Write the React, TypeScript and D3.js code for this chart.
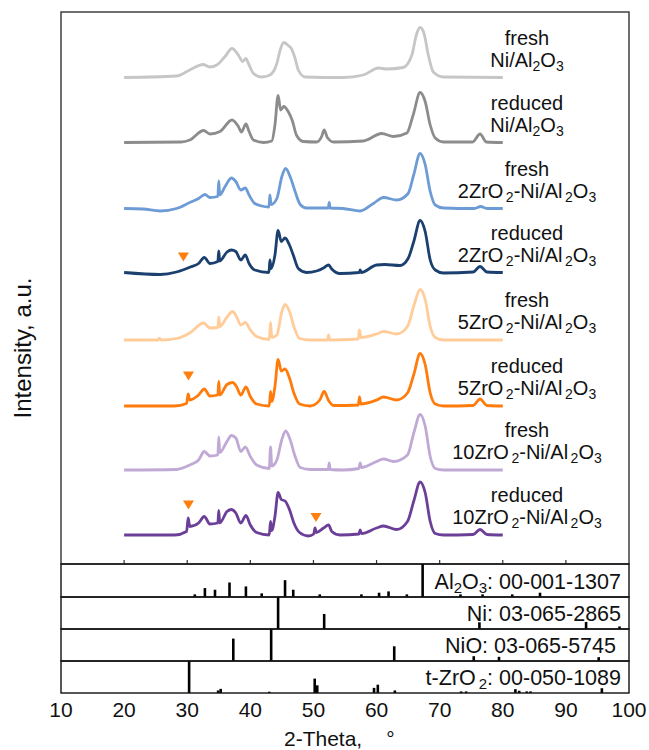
import * as d3 from "d3";

type Pt = [number, number];

// XRD patterns: [2-theta, intensity above the curve's own baseline]
const freshNiAl: Pt[] = [
  [20, 0], [28.3, 3], [30.4, 15], [32.5, 26], [33.6, 21], [34.7, 25], [36.0, 42], [37.1, 58], [38.1, 45],
  [38.8, 32], [39.3, 38], [39.7, 28], [40.5, 8], [41.8, 1], [43.1, 5], [44.2, 28], [44.8, 58], [45.3, 70],
  [46.0, 64], [46.5, 58], [47.1, 38], [47.6, 15], [48.7, 1], [54.7, 0], [57.9, 5], [60.3, 19], [61.6, 17],
  [64.2, 20], [65.6, 45], [66.3, 85], [66.9, 100], [67.5, 89], [68.2, 45], [69.0, 11], [70.6, 1], [80, 0],
];
const reducedNiAl: Pt[] = [
  [20, 0], [29, 1], [30.4, 5], [32.6, 24], [33.6, 17], [35.2, 22], [37.1, 45], [38.1, 32], [38.6, 21],
  [39.3, 37], [39.8, 22], [40.5, 5], [42.1, 0], [43.4, 3], [43.9, 35], [44.4, 94], [44.8, 65], [45.3, 72],
  [46.0, 62], [46.7, 42], [47.3, 15], [48.4, 2], [50.5, 1], [51.3, 12], [51.7, 25], [52.2, 10], [53.2, 1],
  [57.9, 3], [60.8, 18], [62.7, 12], [64.8, 19], [65.8, 55], [66.9, 100], [67.7, 82], [68.5, 35], [69.3, 9],
  [70.6, 1], [75.2, 1], [76.4, 17], [77.4, 1], [80, 0],
];
const fresh2Zr: Pt[] = [
  [20, 0], [23.0, -1], [25.7, -5], [28.3, 0], [30.4, 12], [31.8, 20], [32.8, 28], [33.6, 22], [34.85, 24],
  [35.0, 55], [35.15, 27], [36.0, 44], [37.0, 61], [37.7, 54], [38.5, 37], [39.2, 41], [39.8, 27], [40.7, 10],
  [41.8, 5], [42.95, 3], [43.1, 27], [43.3, 8], [44.2, 20], [45.0, 64], [45.6, 80], [46.3, 64], [47.1, 34],
  [47.9, 8], [48.9, 1], [52.35, 1], [52.5, 12], [52.65, 1], [54.7, 0], [57.4, -5], [59.5, 10], [61.1, 22],
  [63.2, 17], [65.0, 30], [65.9, 68], [66.9, 110], [67.7, 88], [68.5, 34], [69.3, 7], [70.6, 1], [75.5, 0],
  [76.5, 4], [77.5, 0], [80, 0],
];
const reduced2Zr: Pt[] = [
  [20, 0], [25.7, -4], [28.3, 1], [29.3, 5], [30.5, 11], [31.8, 18], [32.7, 30], [33.6, 18], [34.85, 22],
  [35.0, 43], [35.15, 23], [36.3, 41], [37.0, 45], [37.7, 42], [38.5, 25], [39.2, 35], [39.8, 18], [40.7, 5],
  [42.95, 0], [43.1, 25], [43.3, 8], [43.9, 35], [44.4, 84], [44.9, 62], [45.5, 69], [46.2, 55], [46.8, 35],
  [47.6, 8], [48.9, 0], [50.5, 3], [51.6, 9], [52.4, 15], [52.9, 7], [54.2, -2], [57.25, 0], [57.4, 5],
  [57.55, 0], [60.0, 15], [61.3, 16], [63.7, 14], [65.0, 28], [65.9, 62], [66.9, 104], [67.7, 82], [68.5, 25],
  [69.3, 5], [70.6, -1], [75.3, 1], [76.4, 12], [77.5, 1], [80, 0],
];
const fresh5Zr: Pt[] = [
  [20, 0], [25.3, 0], [25.6, 3], [25.9, 0], [28.3, 3], [30.4, 14], [32.6, 34], [33.6, 24], [34.85, 25],
  [35.0, 46], [35.15, 27], [36.3, 46], [37.2, 57], [37.8, 47], [38.5, 30], [39.2, 35], [40.0, 20], [41.0, 7],
  [43.0, 1], [43.2, 35], [43.4, 5], [44.2, 10], [45.0, 57], [45.5, 71], [46.2, 57], [46.9, 27], [47.8, 3],
  [49.5, 0], [52.25, 0], [52.4, 10], [52.55, 0], [57.1, 2], [57.3, 20], [57.5, 5], [60.0, 12], [61.1, 17],
  [63.2, 12], [64.9, 27], [65.9, 68], [66.9, 101], [67.7, 81], [68.5, 27], [69.3, 5], [70.6, 0], [80, 0],
];
const reduced5Zr: Pt[] = [
  [20, 0], [28, 0], [29.9, 5], [30.15, 24], [30.4, 12], [31.8, 22], [32.7, 34], [33.6, 20], [34.85, 22],
  [35.0, 49], [35.15, 22], [36.3, 43], [37.2, 47], [37.8, 39], [38.5, 22], [39.3, 38], [40.0, 19], [41.0, 4],
  [43.0, 0], [43.2, 29], [43.4, 9], [43.9, 39], [44.4, 93], [44.9, 70], [45.5, 74], [46.2, 56], [46.9, 26],
  [47.8, 4], [49.5, 0], [51.0, 12], [51.7, 29], [52.4, 11], [53.2, 1], [57.1, 2], [57.3, 18], [57.5, 4],
  [60.0, 12], [61.1, 18], [63.2, 12], [64.9, 26], [65.9, 63], [66.9, 105], [67.7, 83], [68.5, 26], [69.3, 4],
  [70.6, 0], [75.3, 1], [76.4, 14], [77.5, 1], [80, 0],
];
const fresh10Zr: Pt[] = [
  [20, 0], [28.3, 1], [30.4, 10], [31.8, 20], [32.7, 37], [33.6, 28], [34.85, 30], [35.0, 66], [35.15, 35],
  [36.3, 57], [37.0, 69], [37.7, 64], [38.5, 37], [39.2, 46], [40.0, 27], [41.0, 10], [43.0, 3], [43.2, 46],
  [43.4, 8], [44.2, 20], [45.0, 61], [45.6, 78], [46.3, 61], [47.1, 27], [47.9, 5], [49.5, 1], [52.35, 1],
  [52.5, 14], [52.65, 1], [54.7, 0], [57.2, 3], [57.4, 14], [57.6, 5], [60.0, 17], [61.1, 22], [62.7, 17],
  [64.9, 30], [65.9, 74], [66.9, 111], [67.7, 88], [68.5, 27], [69.3, 3], [70.6, 0], [80, 0],
];
const reduced10Zr: Pt[] = [
  [20, 0], [28, 0], [29.9, 7], [30.15, 34], [30.4, 17], [31.8, 24], [32.7, 37], [33.6, 22], [34.85, 24],
  [35.0, 49], [35.15, 24], [36.3, 47], [37.0, 51], [37.7, 44], [38.5, 24], [39.3, 39], [40.0, 20], [41.0, 5],
  [43.0, 0], [43.2, 27], [43.4, 9], [43.9, 37], [44.4, 85], [44.9, 71], [45.5, 68], [46.2, 51], [46.9, 24],
  [47.8, 5], [49.2, -2], [50.05, 2], [50.25, 14], [50.45, 5], [51.6, 14], [52.4, 20], [52.9, 7], [54.2, 0],
  [57.2, 2], [57.4, 10], [57.6, 3], [60.0, 14], [61.1, 18], [63.2, 11], [64.9, 27], [65.9, 68], [66.9, 106],
  [67.7, 85], [68.5, 27], [69.3, 3], [70.6, 0], [75.3, 1], [76.4, 11], [77.5, 1], [80, 0],
];

const patterns = [freshNiAl, reducedNiAl, fresh2Zr, reduced2Zr, fresh5Zr, reduced5Zr, fresh10Zr, reduced10Zr];
// vertical stacking of the patterns (intensity units)
const stackOffsets = [915, 785, 653, 525, 390, 258, 130, 0];
const labelTop = ["fresh", "reduced", "fresh", "reduced", "fresh", "reduced", "fresh", "reduced"];
const labelBottom = [
  "Ni/Al{2}O{3}", "Ni/Al{2}O{3}",
  "2ZrO{2}-Ni/Al{2}O{3}", "2ZrO{2}-Ni/Al{2}O{3}",
  "5ZrO{2}-Ni/Al{2}O{3}", "5ZrO{2}-Ni/Al{2}O{3}",
  "10ZrO{2}-Ni/Al{2}O{3}", "10ZrO{2}-Ni/Al{2}O{3}",
];
const curveColors = ["#c6c6c6", "#8c8c8c", "#6d9bd5", "#1b3f6f", "#ffcc9a", "#ff7b0c", "#c0aad5", "#6b3f98"];

// t-ZrO2 markers: [pattern index, 2-theta, height above baseline]
const zrMarkers: [number, number, number][] = [[3, 29.4, 31], [5, 30.2, 60], [7, 30.2, 60], [7, 50.4, 35]];

// reference cards: [2-theta, relative intensity %]
const al2o3Sticks: Pt[] = [
  [31.2, 8], [32.8, 27], [34.4, 22], [36.7, 44], [39.3, 32], [41.8, 11], [45.5, 51], [46.8, 22], [51.0, 8],
  [57.6, 8], [60.4, 13], [61.9, 17], [64.8, 8], [67.3, 100], [73.3, 8], [76.8, 8], [81.5, 8], [85.9, 13],
];
const niSticks: Pt[] = [[44.4, 100], [51.7, 47], [76.3, 21], [93.2, 22], [98.5, 8]];
const nioSticks: Pt[] = [[37.3, 70], [43.3, 100], [62.8, 46], [75.4, 15], [79.4, 13], [95.2, 12]];
const zro2Sticks: Pt[] = [
  [30.3, 100], [34.9, 8], [35.3, 13], [43.0, 4], [50.2, 45], [50.6, 24], [59.6, 16], [60.2, 26], [62.9, 8],
  [73.4, 5], [74.2, 5], [82.0, 12], [82.6, 7], [83.8, 5], [84.4, 5], [95.7, 15],
];
const refSticks = [al2o3Sticks, niSticks, nioSticks, zro2Sticks];
const refLabels = ["Al{2}O{3}: 00-001-1307", "Ni: 03-065-2865", "NiO: 03-065-5745", "t-ZrO{2}: 00-050-1089"];

const xTicks = [10, 20, 30, 40, 50, 60, 70, 80, 90, 100];

const FONT = "'Liberation Sans', Arial, sans-serif";

// text with {n} marking a subscript digit; gap spaces the first two subscripts
function Rich({ text, sub, gap }: { text: string; sub: number; gap: number }) {
  const parts = text.split(/\{(\d)\}/);
  return (
    <>
      {parts.map((p, i) =>
        i % 2 === 1 ? (
          <tspan key={i} fontSize={sub} dy={4} dx={i < 5 ? gap : 0}>{p}</tspan>
        ) : p === "" ? null : (
          <tspan key={i} dy={i > 0 ? -4 : 0}>{p}</tspan>
        )
      )}
    </>
  );
}

const App = () => {
  const width = 649;
  const height = 750;
  const left = 61, right = 629, top = 12;
  const panelEdges = [564, 597, 629, 661, 693];

  const x = d3.scaleLinear().domain([10, 100]).range([left, right]);
  const y = d3.scaleLinear().domain([-58, 1046]).range([panelEdges[0], top]);

  const line = (off: number) =>
    d3.line<Pt>()
      .x(d => x(d[0]))
      .y(d => y(d[1] + off))
      .curve(d3.curveMonotoneX);

  return (
    <svg width={width} height={height} style={{ position: "absolute", left: 0, top: 0, background: "#fff" }}
      fontFamily={FONT}>
      <rect width={width} height={height} fill="#fff" />

      {patterns.map((data, i) => (
        <path key={i} d={line(stackOffsets[i])(data) || ""} fill="none" stroke={curveColors[i]}
          strokeWidth={2.8} strokeLinejoin="round" />
      ))}

      {zrMarkers.map(([k, t, h], i) => (
        <path key={i} transform={`translate(${x(t)},${y(stackOffsets[k] + h)})`}
          d="M-5.5,-4.5L5.5,-4.5L0,4.5Z" fill="#ff7f0e" />
      ))}

      {patterns.map((_, i) => (
        <g key={i} fontSize={20} fill="#111">
          <text x={527} y={y(stackOffsets[i]) - 33} textAnchor="middle">{labelTop[i]}</text>
          <text x={527} y={y(stackOffsets[i]) - 11} textAnchor="middle">
            <Rich text={labelBottom[i]} sub={14} gap={i > 1 ? 2.5 : 0} />
          </text>
        </g>
      ))}

      {/* main frame */}
      <rect x={left} y={top} width={right - left} height={panelEdges[0] - top} fill="none" stroke="#333" strokeWidth={1.4} />
      {xTicks.slice(1, -1).map(t => (
        <line key={t} x1={x(t)} x2={x(t)} y1={panelEdges[0]} y2={panelEdges[0] - 4} stroke="#333" strokeWidth={1.2} />
      ))}

      {/* reference stick panels */}
      {refSticks.map((sticks, p) => {
        const yb = panelEdges[p + 1];
        const yt = panelEdges[p];
        const ys = d3.scaleLinear().domain([0, 100]).range([yb, yt]);
        return (
          <g key={p}>
            {sticks.map(([t, h], j) => (
              <line key={j} x1={x(t)} x2={x(t)} y1={yb} y2={ys(h)} stroke="#000" strokeWidth={2.6} />
            ))}
            <rect x={left} y={yt} width={right - left} height={yb - yt} fill="none" stroke="#111" strokeWidth={1.4} />
            <text x={p === 2 ? 616 : 621} y={yb - 8} textAnchor="end" fontSize={21.5} fill="#111">
              <Rich text={refLabels[p]} sub={15} gap={p === 3 ? 3 : 0} />
            </text>
          </g>
        );
      })}

      {xTicks.map(t => (
        <text key={t} x={x(t)} y={717} textAnchor="middle" fontSize={21} fill="#111">{t}</text>
      ))}
      <text x={284} y={746} fontSize={21} fill="#111">
        2-Theta,<tspan dx={24}>°</tspan>
      </text>
      <text transform="translate(31,348) rotate(-90)" textAnchor="middle" fontSize={24} fill="#111">
        Intensity, a.u.
      </text>
    </svg>
  );
};

export default App;
